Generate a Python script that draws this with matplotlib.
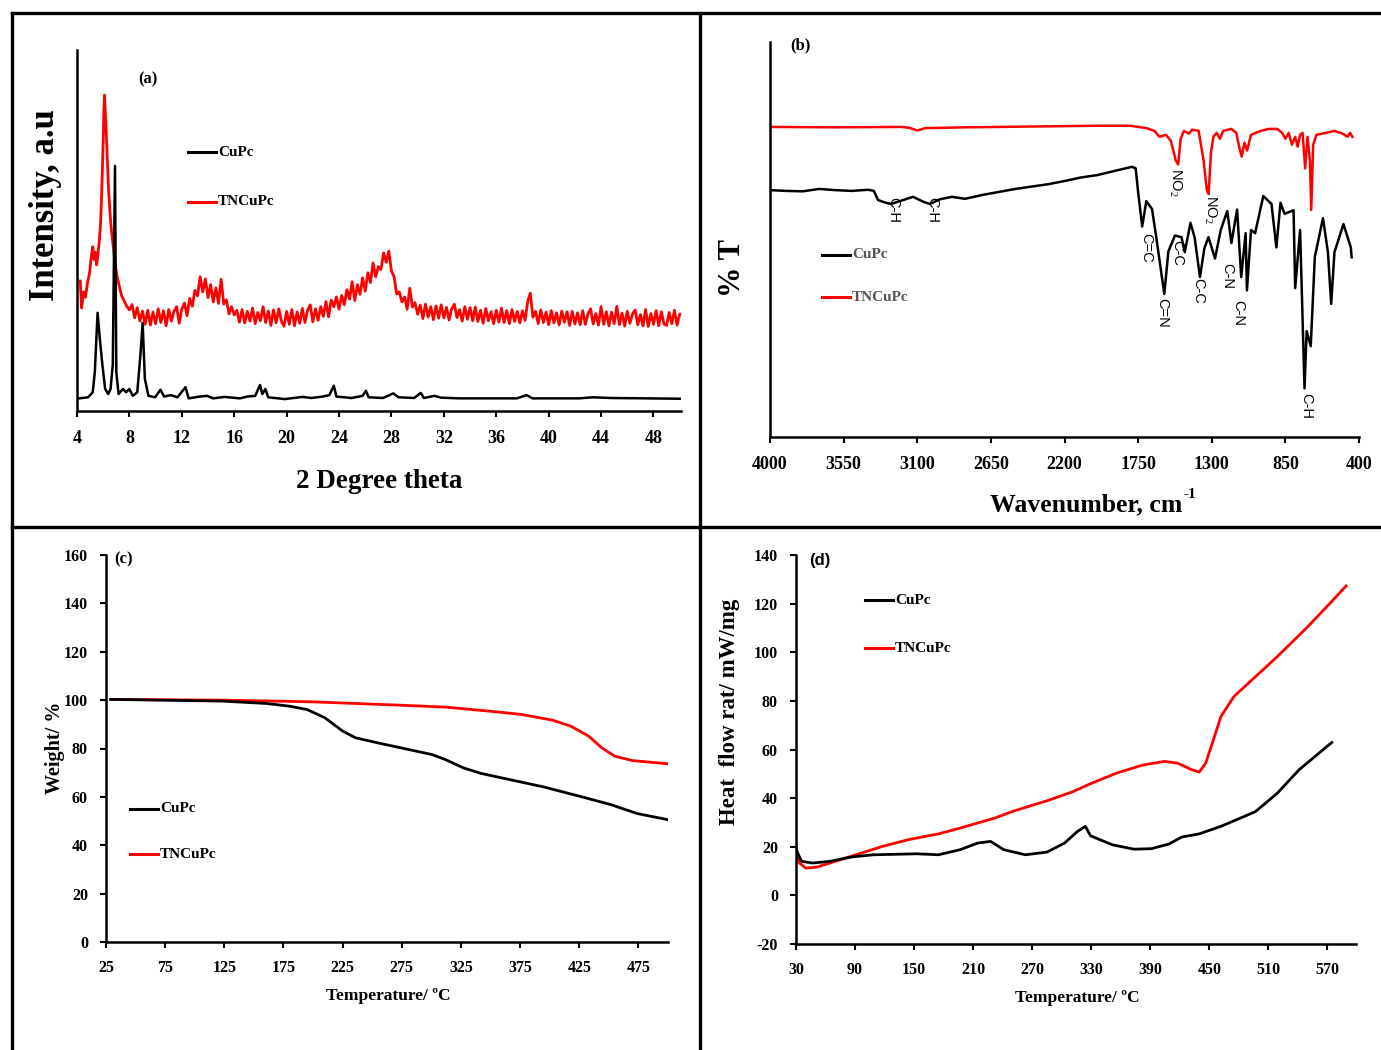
import numpy as np
import matplotlib
matplotlib.use("Agg")
import matplotlib.pyplot as plt
from matplotlib.lines import Line2D

plt.rcParams['font.family'] = ['Liberation Serif', 'DejaVu Serif']
plt.rcParams['mathtext.fontset'] = 'custom'
plt.rcParams['mathtext.rm'] = 'Liberation Serif'
plt.rcParams['mathtext.bf'] = 'Liberation Serif:bold'
plt.rcParams['axes.unicode_minus'] = False

W, H = 1381, 1050
RED = '#ff0000'

# ================ (a) XRD ================
xrd_cupc_x = [4.17, 4.85, 5.2, 5.36, 5.57, 5.74, 5.94, 6.15, 6.39, 6.56, 6.73, 6.9, 7.0, 7.17,
              7.5, 7.75, 7.99, 8.26, 8.6, 8.84, 9.01, 9.18, 9.45, 9.96, 10.37, 10.65, 11.16,
              11.67, 12.28, 12.52, 13.37, 13.92, 14.4, 15.25, 16.44, 17.0, 17.6, 17.97, 18.14,
              18.38, 18.59, 19.85, 21.2, 21.9, 22.75, 23.26, 23.6, 23.8, 24.96, 25.8, 26.05,
              26.26, 27.35, 27.86, 28.13, 28.54, 29.73, 30.24, 30.48, 31.27, 31.78, 33.14,
              35.5, 37.57, 38.32, 38.76, 42.34, 43.37, 44.73, 47.46, 50.0]
xrd_cupc_y = [3.5, 3.8, 5.2, 10.8, 27.2, 20.1, 12.7, 6.1, 4.7, 6.1, 12.7, 67.9, 10.8, 4.7,
              6.1, 5.2, 6.1, 4.2, 5.2, 15.5, 24.4, 8.9, 4.2, 3.8, 5.9, 4.0, 4.4,
              3.8, 6.6, 3.5, 4.0, 4.2, 3.5, 3.9, 3.5, 4.0, 4.2, 7.2, 4.7,
              6.1, 3.8, 3.3, 3.9, 3.6, 4.0, 4.4, 7.0, 4.0, 3.6, 4.2, 5.6,
              3.8, 3.6, 4.4, 4.9, 3.8, 3.6, 5.0, 3.6, 4.2, 3.7, 3.5,
              3.5, 3.5, 4.4, 3.5, 3.5, 3.8, 3.6, 3.5, 3.4]

xrd_tn_head_x = [4.25, 4.35, 4.5, 4.65, 4.8, 4.95, 5.1, 5.2, 5.3, 5.4, 5.5, 5.6, 5.7, 5.8, 5.9,
                 6.0, 6.05, 6.1, 6.15, 6.2, 6.3, 6.4, 6.5, 6.6, 6.75, 6.9, 7.05, 7.2, 7.4,
                 7.6, 7.8, 8.0]
xrd_tn_head_y = [36, 28.5, 33, 31.5, 35.5, 38, 43, 45.5, 42, 44, 40.5, 43.5, 47, 52, 62,
                 75, 83, 87.5, 84, 80, 71, 62, 56, 51, 46, 41, 37.5, 35, 32,
                 30.5, 29, 28]
# noisy part, read roughly every 0.2 degree from 8.2 to 50
xrd_tn_tail = [29.5, 25.8, 28.6, 24.9, 27.7,
               24.0, 27.9, 23.8, 27.4, 24.2, 28.3, 24.5, 27.8, 23.6, 28.1, 24.9, 27.6, 28.9, 24.3, 28.2,
               29.9, 26.4, 31.2, 29.0, 33.4,
               31.9, 37.2, 33.0, 36.6, 31.4,
               35.0, 30.2, 34.1, 29.8, 36.5, 29.6,
               30.8, 26.9, 28.9, 26.6,
               27.9, 24.6, 28.1, 24.4, 27.6, 24.9, 28.5, 24.2, 27.3, 25.0, 28.9, 24.5, 27.7, 23.7, 28.0,
               24.4, 28.3, 24.9, 23.5, 27.6, 24.0, 28.1, 23.6, 27.4, 24.3, 28.4, 24.5, 27.9, 29.4, 24.7,
               28.3, 25.1,
               28.9, 26.2, 30.3, 26.1, 30.7, 28.9, 31.6, 28.2,
               32.0, 29.4, 33.6, 31.0, 35.8, 30.6, 35.0, 32.3, 36.9, 33.2,
               38.3, 35.6, 41.0, 37.2, 40.0, 39.2, 43.8, 41.2, 44.3, 38.8,
               37.2, 32.4, 33.0, 30.2, 31.6,
               28.2, 34.0, 28.8, 30.0, 26.8,
               29.3, 25.6, 29.6, 26.0, 28.9, 25.3, 29.1, 25.7, 29.4, 25.8, 28.7, 25.2, 28.3, 29.6,
               25.9, 28.1, 24.9, 28.9, 25.4, 28.6, 25.0, 28.8, 24.8, 27.9, 24.3, 28.4, 25.0, 27.5,
               24.2, 27.9, 24.6, 28.5, 24.5, 27.8, 24.2, 28.1, 24.8, 27.6, 24.4, 27.8, 25.1,
               30.4, 32.6, 26.0,
               27.6, 24.2, 28.0, 24.5, 27.4, 23.9, 27.8, 24.4, 27.2, 23.8,
               27.7, 24.6, 27.5, 23.7, 27.6, 24.1, 27.2, 23.9, 27.8, 24.0,
               26.9, 28.3, 24.1, 27.0, 23.8, 28.9, 24.0, 27.5, 23.6, 27.4,
               24.2, 29.0, 23.9, 27.1, 23.5, 27.6, 24.3, 26.9, 28.0, 23.9,
               26.7, 23.6, 28.1, 23.4, 27.0, 24.0, 27.8, 23.6, 27.5, 24.1,
               23.7, 27.3, 24.2, 27.9, 23.8, 26.8]
xrd_ticks = list(range(4, 49, 4))

# ================ (b) FTIR ================
ir_tn_x = [4000, 3600, 3200, 3150, 3100, 3050, 2800, 2400, 2000, 1800, 1700, 1650, 1620, 1580,
           1550, 1520, 1505, 1490, 1470, 1440, 1420, 1380, 1350, 1330, 1319, 1305, 1290, 1270,
           1250, 1230, 1180, 1150, 1130, 1117, 1100, 1084, 1060, 1000, 950, 900, 870, 850, 830,
           810, 790, 775, 760, 745, 729, 715, 700, 692, 680, 660, 600, 550, 500, 470, 455, 440]
ir_tn_y = [78.5, 78.4, 78.5, 78.3, 77.6, 78.2, 78.4, 78.6, 78.8, 78.8, 78.2, 77.5, 76.0, 76.5,
           75.0, 70.0, 69.0, 75.5, 77.5, 76.8, 77.8, 77.5, 70.0, 62.5, 61.5, 72.0, 76.0, 77.0,
           75.5, 77.5, 78.0, 77.0, 73.0, 71.0, 74.5, 72.5, 76.5, 77.5, 78.0, 78.0, 77.0, 75.5, 77.0,
           74.0, 76.0, 73.5, 76.5, 77.0, 68.0, 76.0, 70.0, 57.5, 74.0, 76.5, 77.0, 77.5, 76.8, 76.0,
           77.0, 76.0]
ir_cupc_x = [4000, 3900, 3800, 3700, 3600, 3500, 3400, 3365, 3340, 3300, 3260, 3200, 3126, 3060,
             3022, 2960, 2888, 2808, 2700, 2500, 2300, 2200, 2100, 2000, 1900, 1787, 1765, 1750,
             1725, 1700, 1665, 1640, 1590, 1565, 1525, 1485, 1465, 1430, 1405, 1372, 1345, 1320,
             1280, 1245, 1205, 1180, 1145, 1120, 1093, 1085, 1060, 1035, 985, 935, 905, 880, 855,
             800, 790, 760, 733, 720, 695, 670, 620, 590, 570, 550, 495, 450, 445]
ir_cupc_y = [62.5, 62.3, 62.2, 62.8, 62.5, 62.3, 62.6, 62.3, 60.0, 59.4, 59.0, 59.8, 60.8, 59.5,
             59.0, 60.2, 60.8, 60.3, 61.3, 62.8, 64.0, 64.8, 65.7, 66.3, 67.3, 68.4, 68.0, 62.0,
             53.3, 59.7, 57.7, 50.8, 36.2, 47.0, 51.0, 50.6, 46.8, 54.2, 50.6, 40.5, 47.8, 50.6,
             45.2, 52.4, 57.2, 49.1, 57.6, 40.5, 51.6, 37.1, 52.4, 51.6, 61.0, 59.0, 48.0, 59.3, 56.5,
             57.4, 37.7, 52.4, 12.3, 26.8, 23.0, 45.6, 55.4, 46.8, 33.7, 46.8, 53.9, 48.0, 45.5]
ir_ticks = [4000, 3550, 3100, 2650, 2200, 1750, 1300, 850, 400]
ir_labels = ['C-H', 'C-H', 'C=C', 'C=N', 'C-C', 'C-C', 'C-N', 'C-N', 'C-H', 'NO$_2$', 'NO$_2$']
ir_label_x = [3248, 3010, 1701, 1603, 1512, 1383, 1206, 1139, 723, 1524, 1310]
ir_label_y = [60.8, 60.8, 51.6, 35.2, 49.9, 40.3, 44.0, 34.7, 11.1, 68.1, 61.3]

# ================ (c) TGA ================
tga_tn_x = [29, 123, 199, 274, 312, 350, 376, 402.5, 418, 433, 444, 455, 470, 499.5]
tga_tn_y = [100.3, 100.0, 99.3, 97.9, 97.1, 95.4, 94.1, 91.7, 89.2, 85.1, 80.3, 76.8, 75.0, 73.7]
tga_cupc_x = [29, 123, 161, 180, 195, 210, 225, 236, 255, 274, 300.5, 312, 327, 342, 368.5,
              395, 425, 451.6, 474, 499.5]
tga_cupc_y = [100.3, 99.6, 98.6, 97.5, 96.1, 92.7, 87.2, 84.4, 82.3, 80.3, 77.5, 75.4, 72.0,
              69.7, 66.9, 64.1, 60.3, 56.8, 53.1, 50.6]
tga_xticks = list(range(25, 476, 50))
tga_yticks = list(range(0, 161, 20))

# ================ (d) DSC ================
dsc_tn_x = [30, 33.5, 40, 51, 64.4, 91, 117.4, 144, 174.8, 196.9, 232, 249.9, 272, 285, 311.7,
            329, 355.8, 382.3, 404.4, 417.6, 430.9, 439.7, 446.3, 453, 461.8, 475, 497, 519,
            550, 572, 589]
dsc_tn_y = [20.1, 13.3, 11.2, 11.6, 13.3, 16.7, 20.1, 22.9, 25.3, 27.7, 31.8, 34.5, 37.3, 38.9,
            42.7, 45.9, 50.3, 53.6, 55.1, 54.4, 51.9, 50.7, 54.4, 62.6, 73.6, 81.8, 90.0, 98.2,
            110.5, 119.9, 127.3]
dsc_cupc_x = [30, 35.7, 46.8, 64.4, 86.5, 108.6, 152.7, 174.8, 196.9, 214.5, 227.8, 241, 263,
              285, 302.8, 316, 324, 329.3, 351.4, 373.5, 391, 408.8, 422, 439.7, 461.8, 483.9,
              497, 519, 541, 574.4]
dsc_cupc_y = [18.8, 14.0, 13.3, 14.0, 15.8, 16.7, 17.1, 16.7, 18.8, 21.5, 22.2, 18.8, 16.7,
              17.8, 21.5, 26.3, 28.4, 24.5, 20.8, 19.0, 19.2, 21.1, 24.0, 25.3, 28.4, 32.2,
              34.5, 42.0, 51.6, 62.9]
dsc_xticks = list(range(30, 571, 60))
dsc_yticks = list(range(-20, 141, 20))


def fx(x):
    return x / W


def fy(y):
    return 1 - y / H


def rect(l, t, r, b):
    return [fx(l), fy(b), (r - l) / W, (b - t) / H]


def style(ax, size, pad):
    for s in ['top', 'right']:
        ax.spines[s].set_visible(False)
    for s in ['left', 'bottom']:
        ax.spines[s].set_linewidth(1.8)
    ax.tick_params(direction='out', length=4, width=1.5, pad=pad, labelsize=size)
    for lab in ax.get_xticklabels() + ax.get_yticklabels():
        lab.set_fontweight('bold')


def label(fig, x, y, s, size, rot=0, ha='center', **kw):
    fig.text(fx(x), fy(y), s, fontsize=size, fontweight='bold', rotation=rot,
             ha=ha, va='center', **kw)


def legend_lines(fig, x0, ys, names, colors, tcolor='black', size=11):
    for y, n, c in zip(ys, names, colors):
        fig.add_artist(Line2D([fx(x0), fx(x0 + 28)], [fy(y), fy(y)], color=c, lw=2.2))
        fig.text(fx(x0 + 30), fy(y), n, fontsize=size, fontweight='bold', color=tcolor,
                 va='center', ha='left')


fig = plt.figure(figsize=(W / 100, H / 100), dpi=100)

# frame lines
for xs, ys in [([12, 1381], [13, 13]), ([12, 12], [13, 1050]), ([700, 700], [13, 1050]),
               ([12, 1381], [527, 527])]:
    fig.add_artist(Line2D([fx(v) for v in xs], [fy(v) for v in ys], color='black', lw=2.4))

# ---- (a)
ax = fig.add_axes(rect(77, 50, 681, 411))
ax.plot(np.concatenate([xrd_tn_head_x, np.linspace(8.2, 50.0, len(xrd_tn_tail))]),
        np.concatenate([xrd_tn_head_y, xrd_tn_tail]), color=RED, lw=2.0)
ax.plot(xrd_cupc_x, xrd_cupc_y, color='black', lw=1.8, zorder=3)
ax.set_xlim(4, 50.1)
ax.set_ylim(0, 100)
ax.set_xticks(xrd_ticks)
ax.set_yticks([])
style(ax, 13, 10)
label(fig, 379, 481, '2 Degree theta', 19.5)
label(fig, 45, 205, 'Intensity, a.u', 25, rot=90)
label(fig, 148, 79, '(a)', 12)
legend_lines(fig, 188, [152, 202], ['CuPc', 'TNCuPc'], ['black', RED])

# ---- (b)
ax = fig.add_axes(rect(770, 42, 1359, 437))
ax.plot(ir_tn_x, ir_tn_y, color=RED, lw=1.8)
ax.plot(ir_cupc_x, ir_cupc_y, color='black', lw=1.8)
ax.set_xlim(4000, 400)
ax.set_ylim(0, 100)
ax.set_xticks(ir_ticks)
ax.set_yticks([])
style(ax, 13, 10)
for t, x, y in zip(ir_labels, ir_label_x, ir_label_y):
    ax.text(x, y, t, rotation=270, fontsize=10.5, family=['Liberation Sans', 'DejaVu Sans'],
            ha='center', va='top')
label(fig, 1182, 505, 'Wavenumber, cm', 18.5, ha='right')
label(fig, 1183, 494, '-1', 11, ha='left')
label(fig, 733, 268, '% T', 22, rot=90)
label(fig, 800, 45, '(b)', 12)
legend_lines(fig, 822, [255, 297], ['CuPc', 'TNCuPc'], ['black', RED], tcolor='#555555')

# ---- (c)
ax = fig.add_axes(rect(106, 555, 668, 942))
ax.plot(tga_tn_x, tga_tn_y, color=RED, lw=2.0)
ax.plot(tga_cupc_x, tga_cupc_y, color='black', lw=2.0)
ax.set_xlim(25, 500)
ax.set_ylim(0, 160)
ax.set_xticks(tga_xticks)
ax.set_yticks(tga_yticks)
style(ax, 11.5, 9)
label(fig, 388, 996, 'Temperature/ \u00baC', 12.5)
label(fig, 55, 748, 'Weight/ %', 14.5, rot=90)
label(fig, 124, 559, '(c)', 12)
legend_lines(fig, 130, [809, 854], ['CuPc', 'TNCuPc'], ['black', RED])

# ---- (d)
ax = fig.add_axes(rect(796, 555, 1356, 944))
ax.plot(dsc_tn_x, dsc_tn_y, color=RED, lw=2.0)
ax.plot(dsc_cupc_x, dsc_cupc_y, color='black', lw=2.0)
ax.set_xlim(30, 599)
ax.set_ylim(-20, 140)
ax.set_xticks(dsc_xticks)
ax.set_yticks(dsc_yticks)
style(ax, 11.5, 9)
label(fig, 1077, 998, 'Temperature/ \u00baC', 12.5)
label(fig, 730, 712, 'Heat  flow rat/ mW/mg', 16.5, rot=90)
label(fig, 820, 561, '(d)', 12, family=['Liberation Sans', 'DejaVu Sans'])
legend_lines(fig, 865, [600, 648], ['CuPc', 'TNCuPc'], ['black', RED])

fig.savefig('out.png', dpi=100)
